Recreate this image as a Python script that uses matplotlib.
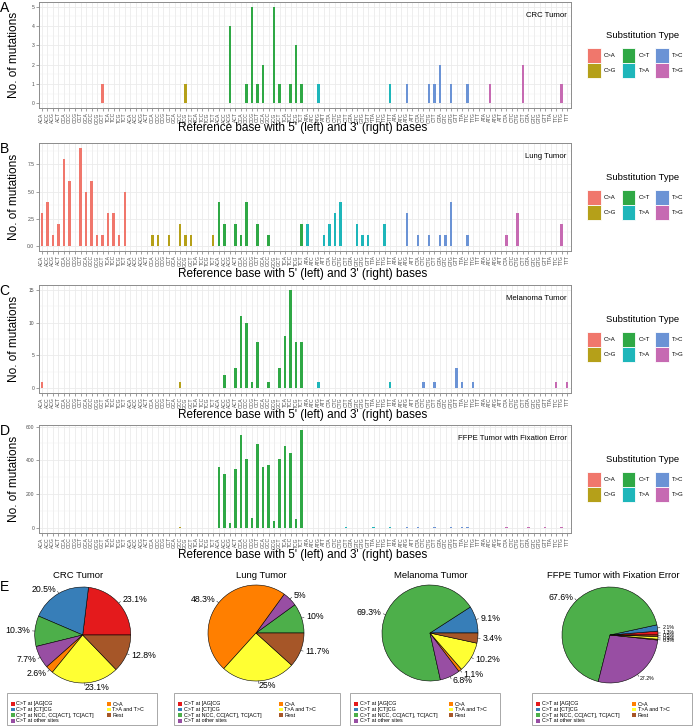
#!/usr/bin/env python
"""Mutation spectra (96 trinucleotide contexts) for four tumours + pie summaries."""
# %%
import numpy as np
import matplotlib
matplotlib.use("Agg")
import matplotlib.pyplot as plt
from matplotlib.patches import Rectangle
from matplotlib.ticker import MultipleLocator

plt.rcParams['font.family'] = ['Liberation Sans', 'DejaVu Sans']

W, H = 693, 728  # output size in px

# %% ---------------------------------
#           data
# ------------------------------------
subst_types = ['C>A', 'C>G', 'C>T', 'T>A', 'T>C', 'T>G']
subst_colors = ['#F0776C', '#B5A019', '#2FA845', '#1EB6BA', '#6B93D5', '#C66AB2']

c_contexts = ['ACA', 'ACC', 'ACG', 'ACT', 'CCA', 'CCC', 'CCG', 'CCT',
              'GCA', 'GCC', 'GCG', 'GCT', 'TCA', 'TCC', 'TCG', 'TCT']
t_contexts = ['ATA', 'ATC', 'ATG', 'ATT', 'CTA', 'CTC', 'CTG', 'CTT',
              'GTA', 'GTC', 'GTG', 'GTT', 'TTA', 'TTC', 'TTG', 'TTT']
contexts = c_contexts * 3 + t_contexts * 3

# one row of 16 per substitution type: C>A, C>G, C>T, T>A, T>C, T>G
crc_counts = [
    0, 0, 0, 0, 0, 0, 0, 0, 0, 0, 0, 1, 0, 0, 0, 0,
    0, 0, 0, 0, 0, 0, 0, 0, 0, 0, 1, 0, 0, 0, 0, 0,
    0, 0, 4, 0, 0, 1, 5, 1, 2, 0, 5, 1, 0, 1, 3, 1,
    0, 0, 1, 0, 0, 0, 0, 0, 0, 0, 0, 0, 0, 0, 0, 1,
    0, 0, 1, 0, 0, 0, 1, 1, 2, 0, 1, 0, 0, 1, 0, 0,
    0, 1, 0, 0, 0, 0, 0, 2, 0, 0, 0, 0, 0, 0, 1, 0,
]
lung_counts = [
    3, 4, 1, 2, 8, 6, 0, 9, 5, 6, 1, 1, 3, 3, 1, 5,
    0, 0, 0, 0, 1, 1, 0, 1, 0, 2, 1, 1, 0, 0, 0, 1,
    4, 2, 0, 2, 1, 4, 0, 2, 0, 1, 0, 0, 0, 0, 0, 2,
    2, 0, 0, 1, 2, 3, 4, 0, 0, 2, 1, 1, 0, 0, 2, 0,
    0, 0, 3, 0, 1, 0, 1, 0, 1, 1, 4, 0, 0, 1, 0, 0,
    0, 0, 0, 0, 1, 0, 3, 0, 0, 0, 0, 0, 0, 0, 2, 0,
]
melanoma_counts = [
    1, 0, 0, 0, 0, 0, 0, 0, 0, 0, 0, 0, 0, 0, 0, 0,
    0, 0, 0, 0, 0, 0, 0, 0, 0, 1, 0, 0, 0, 0, 0, 0,
    0, 2, 0, 3, 11, 10, 1, 7, 0, 1, 0, 3, 8, 15, 7, 7,
    0, 0, 1, 0, 0, 0, 0, 0, 0, 0, 0, 0, 0, 0, 0, 1,
    0, 0, 0, 0, 0, 1, 0, 1, 0, 0, 0, 3, 1, 0, 1, 0,
    0, 0, 0, 0, 0, 0, 0, 0, 0, 0, 0, 0, 0, 1, 0, 1,
]
ffpe_counts = [
    3, 0, 0, 0, 3, 3, 0, 3, 2, 0, 0, 2, 0, 0, 0, 0,
    3, 0, 0, 0, 0, 0, 0, 0, 0, 4, 0, 3, 0, 0, 0, 0,
    358, 322, 30, 348, 548, 410, 60, 498, 358, 370, 42, 406, 483, 446, 56, 580,
    0, 0, 0, 0, 0, 0, 0, 4, 0, 0, 0, 0, 5, 0, 0, 6,
    0, 0, 5, 0, 6, 0, 0, 6, 0, 0, 8, 0, 5, 4, 0, 0,
    0, 0, 0, 0, 4, 0, 0, 0, 5, 0, 0, 4, 0, 0, 4, 0,
]

# pie groups (percent)
group_labels = ['C>T at [AG]CG', 'C>T at [CT]CG', 'C>T at NCC, CC[ACT], TC[ACT]',
                'C>T at other sites', 'C>A', 'T>A and T>C', 'Rest']
group_colors = ['#E41A1C', '#377EB8', '#4DAF4A', '#984EA3', '#FF7F00', '#FFFF33', '#A65628']
crc_pct = [23.1, 20.5, 10.3, 7.7, 2.6, 23.1, 12.8]
lung_pct = [0, 0, 10, 5, 48.3, 25, 11.7]
melanoma_pct = [0, 9.1, 69.3, 6.8, 1.1, 10.2, 3.4]
ffpe_pct = [1.3, 2.1, 67.6, 27.2, 0.3, 0.9, 0.5]

fig = plt.figure(figsize=(W / 100, H / 100), dpi=100)


def fig_rect(x0, y0, x1, y1):
    # px box (top-left origin) -> figure fraction [l, b, w, h]
    return [x0 / W, 1 - y1 / H, (x1 - x0) / W, (y1 - y0) / H]


# %% ---------------------------------
#           bar panels A-D
# ------------------------------------
key_x = [587, 621.7, 655]


def subst_legend(cy):
    fig.text(643 / W, 1 - (cy - 20) / H, 'Substitution Type', ha='center', va='center', fontsize=6.8)
    for k, (lab, col) in enumerate(zip(subst_types, subst_colors)):
        kx = key_x[k // 2]
        ky = cy - 7 + 15 * (k % 2)
        fig.add_artist(Rectangle((kx / W, 1 - (ky + 15) / H), 13.5 / W, 15 / H,
                                 transform=fig.transFigure, facecolor=col,
                                 edgecolor='white', lw=0.6))
        fig.text((kx + 17) / W, 1 - (ky + 7.5) / H, lab, ha='left', va='center', fontsize=4.3)


def bar_panel(counts, title, letter, top, bottom, ystep, yfmt, xlab_y):
    ax = fig.add_axes(fig_rect(38.5, top, 570.5, bottom))
    bar_cols = [subst_colors[i // 16] for i in range(len(counts))]
    ax.bar(np.arange(len(counts)), counts, width=0.45, color=bar_cols, zorder=3)
    ymax = max(counts)
    ax.set_xlim(-0.6, len(counts) - 0.4)
    ax.set_ylim(-0.05 * ymax, 1.05 * ymax)
    ax.set_xticks(np.arange(len(counts)))
    ax.set_xticklabels(contexts, rotation=90)
    ax.yaxis.set_major_locator(MultipleLocator(ystep))
    ax.yaxis.set_minor_locator(MultipleLocator(ystep / 2))
    ax.yaxis.set_major_formatter(lambda v, p: yfmt.format(v))
    ax.set_axisbelow(True)
    ax.grid(True, which='major', color='#EBEBEB', lw=0.6)
    ax.grid(True, which='minor', axis='y', color='#F2F2F2', lw=0.35)
    ax.tick_params(length=2, width=0.4, color='#555555', labelsize=3.6,
                   labelcolor='#4D4D4D', pad=1)
    ax.tick_params(which='minor', length=0)
    for sp in ax.spines.values():
        sp.set_color('#8C8C8C')
        sp.set_linewidth(0.7)
    ax.text(0.993, 0.875, title, transform=ax.transAxes, ha='right', va='center', fontsize=5.6)
    cy = (top + bottom) / 2
    fig.text(14 / W, 1 - cy / H, 'No. of mutations', rotation=90, ha='center', va='center', fontsize=8.5)
    fig.text(303 / W, 1 - xlab_y / H, "Reference base with 5' (left) and 3' (right) bases",
             ha='center', va='center', fontsize=8.5)
    fig.text(4.5 / W, 1 - (top + 6) / H, letter, ha='center', va='center', fontsize=10)
    subst_legend(cy)
    return ax


bar_panel(crc_counts, 'CRC Tumor', 'A', 2, 108, 1, '{:g}', 128)
bar_panel(lung_counts, 'Lung Tumor', 'B', 143, 251, 2.5, '{:.1f}', 274)
bar_panel(melanoma_counts, 'Melanoma Tumor', 'C', 285, 393, 5, '{:g}', 415)
bar_panel(ffpe_counts, 'FFPE Tumor with Fixation Error', 'D', 425, 533, 200, '{:g}', 555)

# %% ---------------------------------
#           pies (E)
# ------------------------------------
R = 48  # pie radius in px


def pie_panel(pct, title, cx, cy, title_x, box, col2_dx, small_labels=False):
    half = 80
    ax = fig.add_axes(fig_rect(cx - half, cy - half, cx + half, cy + half))
    wedges, _ = ax.pie(pct, colors=group_colors, startangle=0, counterclock=True,
                       wedgeprops=dict(edgecolor='black', linewidth=0.4))
    ax.set_xlim(-half / R, half / R)
    ax.set_ylim(-half / R, half / R)
    ax.axis('off')
    for w, v in zip(wedges, pct):
        if v == 0:
            continue
        a = np.deg2rad((w.theta1 + w.theta2) / 2)
        c, s = np.cos(a), np.sin(a)
        ax.plot([c, 1.05 * c], [s, 1.05 * s], color='#333333', lw=0.4)
        fs = 3.8 if (small_labels and v < 30) else 6.3
        ax.text(1.1 * c, 1.1 * s, f'{v:g}%', ha='left' if c > 0 else 'right',
                va='center', fontsize=fs, clip_on=False)
    fig.text(title_x / W, 1 - 575 / H, title, ha='center', va='center', fontsize=6.8)

    bx0, bx1 = box
    by0, by1 = 693, 725
    fig.add_artist(Rectangle((bx0 / W, 1 - by1 / H), (bx1 - bx0) / W, (by1 - by0) / H,
                             transform=fig.transFigure, fill=False,
                             edgecolor='#9A9A9A', lw=0.6))
    for k, (lab, col) in enumerate(zip(group_labels, group_colors)):
        if k < 4:
            kx, ky = bx0 + 4, 704 + 5.6 * k
        else:
            kx, ky = bx0 + col2_dx, 704 + 5.6 * (k - 4)
        fig.add_artist(Rectangle((kx / W, 1 - (ky + 1.8) / H), 3.6 / W, 3.6 / H,
                                 transform=fig.transFigure, facecolor=col, lw=0))
        fig.text((kx + 5.5) / W, 1 - ky / H, lab, ha='left', va='center', fontsize=3.9)


pie_panel(crc_pct, 'CRC Tumor', 82.7, 635, 78, (7, 157), 100)
pie_panel(lung_pct, 'Lung Tumor', 256, 633, 261, (174, 340), 105)
pie_panel(melanoma_pct, 'Melanoma Tumor', 430, 633, 431, (350, 500), 99)
pie_panel(ffpe_pct, 'FFPE Tumor with Fixation Error', 610, 635, 613, (532, 692), 100,
          small_labels=True)
fig.text(4.5 / W, 1 - 587 / H, 'E', ha='center', va='center', fontsize=10)

fig.savefig('out.png', dpi=100)
print("saved out.png")
